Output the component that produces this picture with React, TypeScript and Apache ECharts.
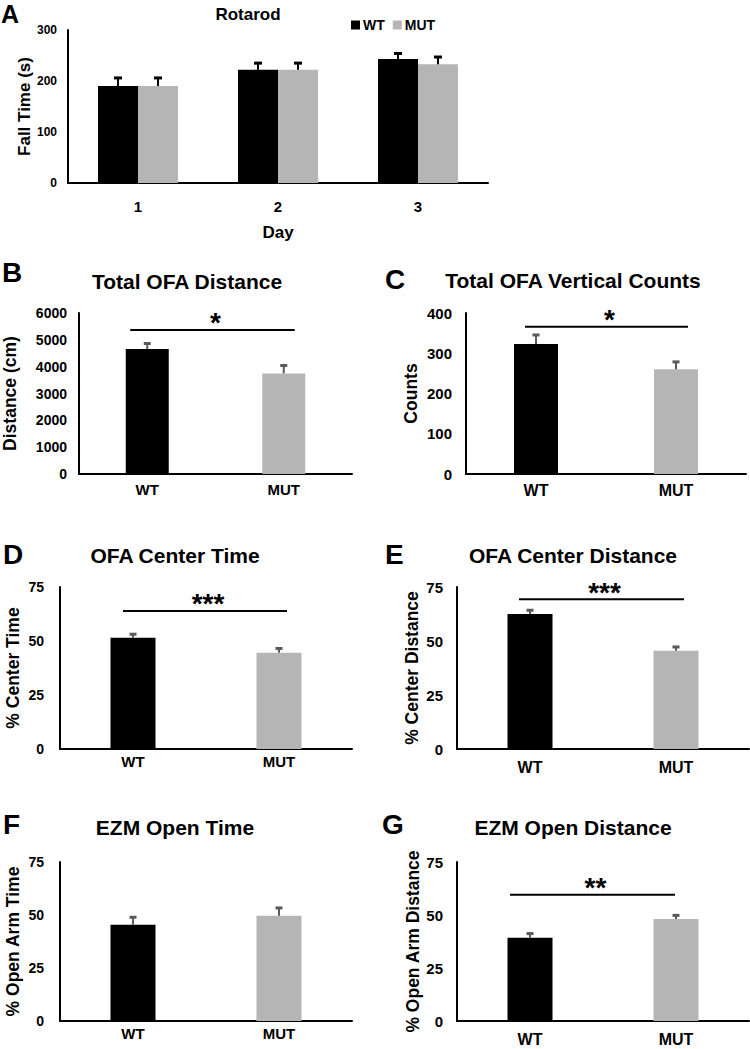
import React, { useEffect, useRef } from "react";
import * as echarts from "echarts";

const FONT = '"Liberation Sans", Arial, Helvetica, sans-serif';

// ---- Panel A: Rotarod ----
const rotarodDays = ["1", "2", "3"];
const rotarodWT = [190, 222, 243];
const rotarodWTErr = [18, 15, 13];
const rotarodMUT = [190, 222, 233];
const rotarodMUTErr = [18, 15, 16];
const rotarodMax = 300;
const rotarodInterval = 100;

// ---- Panels B-G ----
const genotypes = ["WT", "MUT"];
const ofaDistance = [4660, 3750];
const ofaDistanceErr = [240, 330];
const ofaVertical = [323, 260];
const ofaVerticalErr = [25, 21];
const centerTime = [51.5, 44.6];
const centerTimeErr = [2.1, 2.4];
const centerDistance = [62.5, 45.5];
const centerDistanceErr = [2.2, 2.2];
const ezmOpenTime = [45.4, 49.7];
const ezmOpenTimeErr = [4.0, 4.1];
const ezmOpenDistance = [39.3, 48.1];
const ezmOpenDistanceErr = [2.4, 2.2];

const panelTitles = [
  "Total OFA Distance",
  "Total OFA Vertical Counts",
  "OFA Center Time",
  "OFA Center Distance",
  "EZM Open Time",
  "EZM Open Distance",
];
const panelYNames = [
  "Distance (cm)",
  "Counts",
  "% Center Time",
  "% Center Distance",
  "% Open Arm Time",
  "% Open Arm Distance",
];
const panelValues = [ofaDistance, ofaVertical, centerTime, centerDistance, ezmOpenTime, ezmOpenDistance];
const panelErrs = [ofaDistanceErr, ofaVerticalErr, centerTimeErr, centerDistanceErr, ezmOpenTimeErr, ezmOpenDistanceErr];
const yMax = [6000, 400, 75, 75, 75, 75];
const yInterval = [1000, 100, 25, 25, 25, 25];
const sigHeights = [5370, 366, 63.9, 69.3, null, 59.6];
const sigLabels = ["*", "*", "***", "***", "", "**"];

const BLACK = "#000000";
const GREY = "#b5b5b5";
const ERR_GREY = "#5a5a5a";

// layout of panels B-G (pixels)
const layout = [
  { letter: "B", grid: { left: 79, top: 313, width: 273, height: 161 }, nameGap: 60, yMargin: 12, yFont: 14, xFont: 15, xMargin: 8, barW: 43, title: [187, 281], letterPos: [2, 272], sig: [-17, 11] },
  { letter: "C", grid: { left: 466, top: 313, width: 280, height: 161 }, nameGap: 46, yMargin: 14, yFont: 15, xFont: 16, xMargin: 8, barW: 44, title: [573, 280], letterPos: [385, 279], sig: [-11, 12] },
  { letter: "D", grid: { left: 60, top: 587, width: 292, height: 162 }, nameGap: 38, yMargin: 16, yFont: 14, xFont: 15, xMargin: 5, barW: 45, title: [175, 555], letterPos: [3, 554], sig: [-10, 8] },
  { letter: "E", grid: { left: 457, top: 587, width: 292, height: 162 }, nameGap: 36, yMargin: 14, yFont: 15, xFont: 16, xMargin: 10, barW: 45, title: [573, 555], letterPos: [385, 554], sig: [-11, 8] },
  { letter: "F", grid: { left: 60, top: 862, width: 292, height: 159 }, nameGap: 38, yMargin: 16, yFont: 14, xFont: 15, xMargin: 5, barW: 45, title: [175, 827], letterPos: [3, 824], sig: [0, 0] },
  { letter: "G", grid: { left: 457, top: 862, width: 292, height: 159 }, nameGap: 35, yMargin: 14, yFont: 15, xFont: 16, xMargin: 10, barW: 45, title: [573, 827], letterPos: [382, 824], sig: [-20, -1] },
];

const errRender = (color: string, capW: number, offsetPx: number) => (params: any, api: any) => {
  const i = api.value(0);
  const base = api.coord([i, api.value(1)]);
  const top = api.coord([i, api.value(2)]);
  const x = base[0] + api.value(3) * offsetPx;
  return {
    type: "group",
    children: [
      { type: "line", shape: { x1: x, y1: base[1], x2: x, y2: top[1] }, style: { stroke: color, lineWidth: 2 } },
      { type: "line", shape: { x1: x - capW / 2, y1: top[1] + 1, x2: x + capW / 2, y2: top[1] + 1 }, style: { stroke: color, lineWidth: 3 } },
    ],
  };
};

const sigRender = (label: string, L: number, R: number) => (params: any, api: any) => {
  const y = api.value(1);
  const p0 = api.coord([0, y]);
  const p1 = api.coord([1, y]);
  const x1 = p0[0] + L;
  const x2 = p1[0] + R;
  return {
    type: "group",
    children: [
      { type: "line", shape: { x1, y1: p0[1], x2, y2: p0[1] }, style: { stroke: "#000", lineWidth: 2 } },
      {
        type: "text",
        x: (x1 + x2) / 2 + 3,
        y: p0[1] - 7,
        style: { text: label, fill: "#000", font: `bold 28px ${FONT}`, align: "center", verticalAlign: "middle" },
      },
    ],
  };
};

const plain = (v: number) => String(v);

function buildOption() {
  const grids: any[] = [{ left: 68, top: 30, width: 420, height: 153 }];
  const xAxes: any[] = [
    {
      type: "category",
      gridIndex: 0,
      data: rotarodDays,
      name: "Day",
      nameLocation: "middle",
      nameGap: 41,
      nameMoveOverlap: false,
      nameTextStyle: { fontFamily: FONT, fontWeight: "bold", fontSize: 17, color: "#000" },
      axisLine: { lineStyle: { color: "#000", width: 2 } },
      axisTick: { show: false },
      axisLabel: { fontFamily: FONT, fontWeight: "bold", fontSize: 15, color: "#000", margin: 16 },
    },
  ];
  const yAxes: any[] = [
    {
      type: "value",
      gridIndex: 0,
      min: 0,
      max: rotarodMax,
      interval: rotarodInterval,
      name: "Fall Time (s)",
      nameLocation: "middle",
      nameRotate: 90,
      nameGap: 35,
      nameMoveOverlap: false,
      nameTextStyle: { fontFamily: FONT, fontWeight: "bold", fontSize: 17, color: "#000" },
      axisLine: { show: true, lineStyle: { color: "#000", width: 2 } },
      axisTick: { show: false },
      splitLine: { show: false },
      axisLabel: { fontFamily: FONT, fontWeight: "bold", fontSize: 12, color: "#000", margin: 11, formatter: plain },
    },
  ];
  const series: any[] = [
    { type: "bar", name: "WT", xAxisIndex: 0, yAxisIndex: 0, data: rotarodWT, barWidth: 40, barGap: "0%", itemStyle: { color: BLACK } },
    { type: "bar", name: "MUT", xAxisIndex: 0, yAxisIndex: 0, data: rotarodMUT, barWidth: 40, barGap: "0%", itemStyle: { color: GREY } },
    {
      type: "custom",
      xAxisIndex: 0,
      yAxisIndex: 0,
      z: 5,
      renderItem: errRender("#000", 8, 20),
      data: rotarodWT.map((v, i) => [i, v, v + rotarodWTErr[i], -1]),
    },
    {
      type: "custom",
      xAxisIndex: 0,
      yAxisIndex: 0,
      z: 5,
      renderItem: errRender("#000", 8, 20),
      data: rotarodMUT.map((v, i) => [i, v, v + rotarodMUTErr[i], 1]),
    },
  ];
  const graphics: any[] = [
    { type: "text", x: 248, y: 14, style: { text: "Rotarod", font: `bold 17px ${FONT}`, fill: "#000", align: "center", verticalAlign: "middle" } },
    { type: "text", x: 1, y: 14, style: { text: "A", font: `bold 25px ${FONT}`, fill: "#000", align: "left", verticalAlign: "middle" } },
  ];

  layout.forEach((L, k) => {
    const idx = k + 1;
    grids.push(L.grid);
    xAxes.push({
      type: "category",
      gridIndex: idx,
      data: genotypes,
      axisLine: { lineStyle: { color: "#000", width: 2 } },
      axisTick: { show: false },
      axisLabel: { fontFamily: FONT, fontWeight: "bold", fontSize: L.xFont, color: "#000", margin: L.xMargin },
    });
    yAxes.push({
      type: "value",
      gridIndex: idx,
      min: 0,
      max: yMax[k],
      interval: yInterval[k],
      name: panelYNames[k],
      nameLocation: "middle",
      nameRotate: 90,
      nameGap: L.nameGap,
      nameMoveOverlap: false,
      nameTextStyle: { fontFamily: FONT, fontWeight: "bold", fontSize: 17.5, color: "#000" },
      axisLine: { show: true, lineStyle: { color: "#000", width: 2 } },
      axisTick: { show: false },
      splitLine: { show: false },
      axisLabel: { fontFamily: FONT, fontWeight: "bold", fontSize: L.yFont, color: "#000", margin: L.yMargin, formatter: plain },
    });
    series.push({
      type: "bar",
      xAxisIndex: idx,
      yAxisIndex: idx,
      barWidth: L.barW,
      data: panelValues[k].map((v, i) => ({ value: v, itemStyle: { color: i === 0 ? BLACK : GREY } })),
    });
    series.push({
      type: "custom",
      xAxisIndex: idx,
      yAxisIndex: idx,
      z: 5,
      renderItem: errRender(ERR_GREY, 7, 0),
      data: panelValues[k].map((v, i) => [i, v, v + panelErrs[k][i], 0]),
    });
    const s = sigHeights[k];
    if (s !== null) {
      series.push({
        type: "custom",
        xAxisIndex: idx,
        yAxisIndex: idx,
        z: 6,
        renderItem: sigRender(sigLabels[k], L.sig[0], L.sig[1]),
        data: [[0, s]],
      });
    }
    graphics.push({
      type: "text",
      x: L.title[0],
      y: L.title[1],
      style: { text: panelTitles[k], font: `bold 21px ${FONT}`, fill: "#000", align: "center", verticalAlign: "middle" },
    });
    graphics.push({
      type: "text",
      x: L.letterPos[0],
      y: L.letterPos[1],
      style: { text: L.letter, font: `bold 28px ${FONT}`, fill: "#000", align: "left", verticalAlign: "middle" },
    });
  });

  return {
    animation: false,
    backgroundColor: "#ffffff",
    legend: {
      data: ["WT", "MUT"],
      left: 351,
      top: 18,
      padding: 0,
      icon: "rect",
      itemWidth: 9,
      itemHeight: 9,
      itemGap: 8,
      textStyle: { fontFamily: FONT, fontWeight: "bold", fontSize: 14, color: "#000", padding: [0, 0, 0, -2] },
    },
    grid: grids,
    xAxis: xAxes,
    yAxis: yAxes,
    series,
    graphic: graphics,
  };
}

export default function App() {
  const ref = useRef<HTMLDivElement>(null);
  useEffect(() => {
    if (!ref.current) return;
    const chart = echarts.init(ref.current, undefined, { renderer: "svg" });
    chart.setOption(buildOption() as any);
    return () => chart.dispose();
  }, []);
  return (
    <div
      ref={ref}
      style={{ position: "absolute", left: 0, top: 0, width: 750, height: 1049, background: "#fff" }}
    />
  );
}
